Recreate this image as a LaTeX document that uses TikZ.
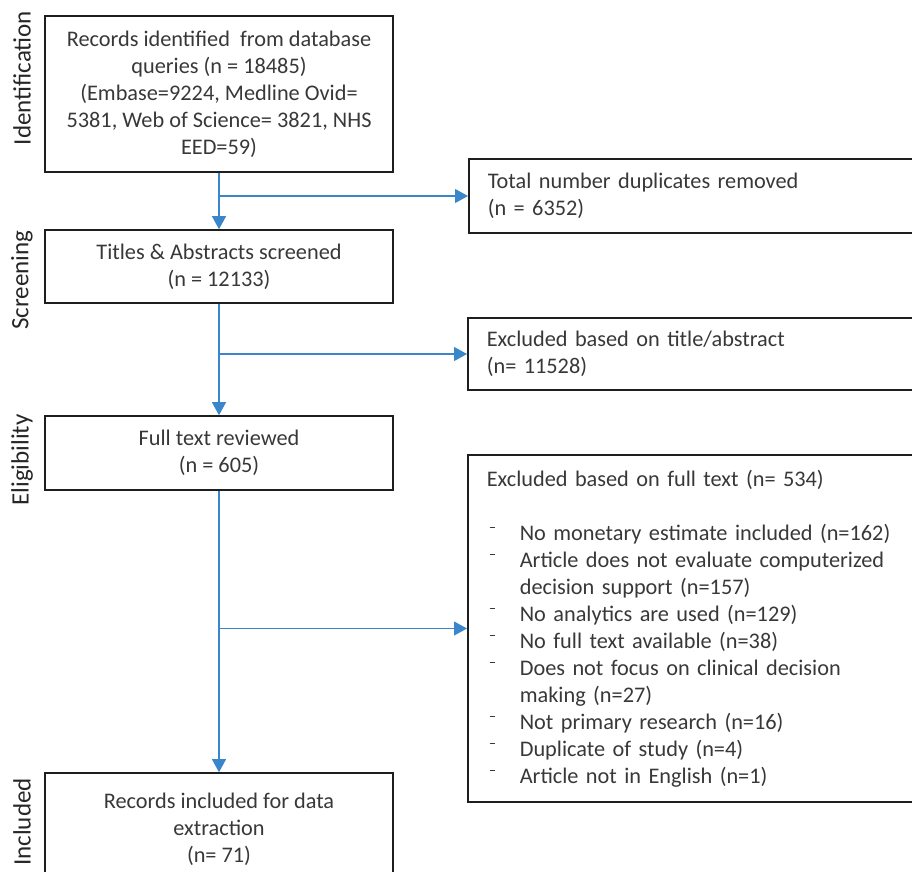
\documentclass[tikz,border=0pt]{standalone}
\usepackage{fontspec}
\setmainfont{Carlito}
\usepackage{tikz}
\usetikzlibrary{positioning,arrows.meta}
\definecolor{flowblue}{RGB}{58,134,202}
\definecolor{boxtext}{RGB}{56,56,56}
\definecolor{boxline}{RGB}{30,30,30}
\newcommand{\exdash}{\makebox[33pt][l]{\hspace{3pt}\rule[12pt]{5pt}{0.9pt}}}
\newcommand{\exgap}{\hspace*{33pt}}

\begin{document}
\begin{tikzpicture}[x=1pt, y=1pt, on grid, semithick,
    stage/.style={draw=boxline, line width=1.6pt, text=boxtext, align=center, minimum width=348pt, font=\fontsize{22.3}{27}\selectfont},
    side/.style={draw=boxline, line width=1.6pt, text=boxtext, align=left, text width=410pt, inner xsep=19pt, anchor=west, font=\fontsize{22.3}{27}\selectfont},
    phase/.style={rotate=90, text=black!85, font=\fontsize{25}{28}\selectfont},
    flow/.style={draw=flowblue, line width=1.1pt, -{Triangle[length=13pt,width=14pt]}}]
\useasboundingbox (0,0) rectangle (912,-871);
\clip (0,0) rectangle (912,-871);
% left column
\node[stage, minimum height=156pt] (A) at (219,-94) {Records identified\ \ from database\\ queries (n = 18485)\\ (Embase=9224, Medline Ovid=\\ 5381, Web of Science= 3821, NHS\\ EED=59)};
\node[stage, minimum height=73pt] (B) [below=172.5pt of A] {Titles \& Abstracts screened\\ (n = 12133)};
\node[stage, minimum height=74pt] (C) [below=186.5pt of B] {Full text reviewed\\ (n = 605)};
\node[stage, minimum height=112pt] (E) [below=376pt of C] {Records included for data\\ extraction\\ (n= 71)};
% right column
\node[side, minimum height=74pt] (R1) at (468,-196) {Total number duplicates removed\\ (n = 6352)};
\node[side, minimum height=72pt] (R2) at (467,-354) {Excluded based on title/abstract\\ (n= 11528)};
\node[side, minimum height=347pt] (R3) at (467,-628.5) {Excluded based on full text (n= 534)\\[27pt]
  \exdash No monetary estimate included (n=162)\\
  \exdash Article does not evaluate computerized\\
  \exgap decision support (n=157)\\
  \exdash No analytics are used (n=129)\\
  \exdash No full text available (n=38)\\
  \exdash Does not focus on clinical decision\\
  \exgap making (n=27)\\
  \exdash Not primary research (n=16)\\
  \exdash Duplicate of study (n=4)\\
  \exdash Article not in English (n=1)};
% phase labels
\node[phase] (P1) at (22,-78) {Identification};
\node[phase] (P2) at (22,-280) {Screening};
\node[phase] (P3) at (22,-460) {Eligibility};
\node[phase] (P4) at (22,-822) {Included};
% flow
\coordinate (s1) at (A.south |- R1.west);
\coordinate (s2) at (B.south |- R2.west);
\coordinate (s3) at (C.south |- R3.west);
\draw[flow] (A) -- (B);
\draw[flow] (B) -- (C);
\draw[flow] (C) -- (E);
\draw[flow] (s1) -- (R1);
\draw[flow] (s2) -- (R2);
\draw[flow] (s3) -- (R3);
\end{tikzpicture}
\end{document}
